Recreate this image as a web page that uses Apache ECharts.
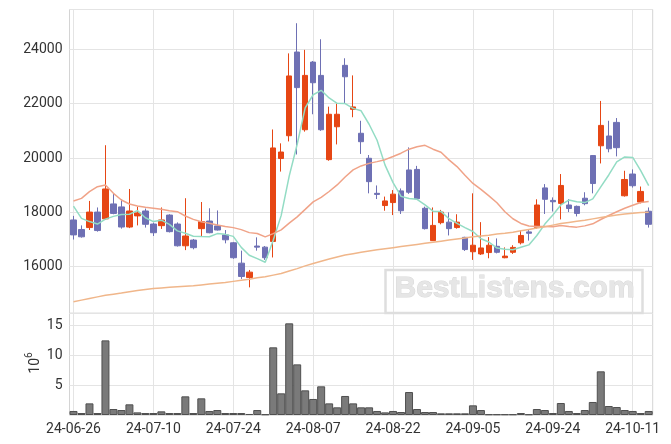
<!DOCTYPE html>
<html>
<head>
<meta charset="utf-8">
<script src="https://cdn.jsdelivr.net/npm/echarts@6/dist/echarts.min.js"></script>
<style>html,body{margin:0;padding:0;background:#fff;}#c{width:671px;height:444px;}</style>
</head>
<body>
<div id="c"></div>
<script>
const dates = ['24-06-26','24-06-27','24-06-28','24-07-01','24-07-02','24-07-03','24-07-04','24-07-05','24-07-08','24-07-09',
'24-07-10','24-07-11','24-07-12','24-07-15','24-07-16','24-07-17','24-07-18','24-07-19','24-07-22','24-07-23',
'24-07-24','24-07-25','24-07-26','24-07-29','24-07-30','24-07-31','24-08-01','24-08-02','24-08-05','24-08-06',
'24-08-07','24-08-08','24-08-09','24-08-12','24-08-13','24-08-14','24-08-16','24-08-19','24-08-20','24-08-21',
'24-08-22','24-08-23','24-08-26','24-08-27','24-08-28','24-08-29','24-08-30','24-09-02','24-09-03','24-09-04',
'24-09-05','24-09-06','24-09-09','24-09-10','24-09-11','24-09-12','24-09-13','24-09-19','24-09-20','24-09-23',
'24-09-24','24-09-25','24-09-26','24-09-27','24-09-30','24-10-02','24-10-04','24-10-07','24-10-08','24-10-10',
'24-10-11','24-10-14','24-10-15'];

const open  = [17720,17370,17440,18010,17760,18310,18200,17460,17870,18050,17570,17510,17900,17570,16770,16980,17400,17680,17500,17170,
16880,16130,15600,16760,16720,16930,19980,20820,23900,21040,23530,23040,19940,21150,23410,21790,20910,19990,18700,18250,
18360,18790,19560,19580,18150,16960,17620,17640,17440,17080,16550,16470,16520,16750,16330,16530,16880,17280,17440,18900,
18440,18330,18270,18220,18520,20090,20450,20810,21310,18610,19410,18380,18040];
const close = [17170,17100,18010,17330,18860,17960,17460,18050,17980,17560,17250,17720,17290,16770,17130,16700,17660,17250,17350,16990,
16330,15640,15800,16720,16330,20370,20220,23020,22590,23040,22770,21040,21610,21610,22990,21880,20600,19130,18660,18420,
18670,18060,18740,18500,17400,17520,18010,17400,17640,16630,16790,16690,16790,16530,16390,16710,17150,17230,18270,18480,
18390,18990,18140,17960,18320,19060,21200,20340,20380,19210,18980,18770,17560];
const low   = [17000,17070,17350,17290,17720,17930,17400,17420,17520,17440,17130,17390,17260,16740,16610,16640,17130,17230,17330,16860,
16290,15550,15240,16590,16250,16340,19500,20610,20130,20970,21610,21000,19900,20500,22010,21500,20150,18700,18490,18060,
17900,17940,18680,18480,17370,16950,17560,17150,17400,16580,16250,16430,16310,16490,16310,16470,16820,16960,17400,17940,
18030,17740,18010,17850,18260,18700,19800,20210,20060,18580,18910,18330,17440];
const high  = [17870,17520,18420,18180,20470,18700,18480,18860,18210,18140,17620,18180,17930,17630,18520,17020,18380,18150,18070,17350,
16910,16590,15880,17080,16760,21050,20540,23850,24960,23980,23570,24370,21890,22010,23670,23040,21370,20110,18990,18580,
18820,18880,20390,19710,18210,18180,18090,18000,17930,17100,18700,17640,17090,17040,16710,16790,17350,17370,18480,19040,
18550,19410,18490,18250,18740,20110,22100,21370,21470,19530,19580,18950,18180];

const ma5   = [18230,17780,17660,17570,17750,17852,17924,17932,18062,17802,17660,17712,17560,17318,17232,17122,17110,17102,17218,17190,
17116,16712,16422,16296,16164,16972,17888,19332,20506,21848,22328,22492,22210,22014,22004,21826,21738,21242,20652,19738,
19096,18588,18510,18478,18274,18044,18034,17766,17594,17440,17294,17030,16908,16686,16638,16622,16714,16802,17150,17568,
17904,18272,18454,18392,18360,18494,18936,19376,19860,20038,20022,19536,18980];
const ma20  = [18417,18515,18760,18945,19006,18699,18454,18307,18233,18184,18147,18110,18061,18025,17865,17742,17656,17595,17534,17480,
17438,17365,17254,17224,17097,17218,17356,17604,17835,18109,18385,18551,18767,19009,19302,19561,19708,19802,19867,19939,
20056,20177,20324,20413,20466,20324,20213,19932,19685,19364,19065,18848,18607,18353,18023,17764,17592,17497,17477,17480,
17466,17513,17483,17456,17502,17579,17738,17885,18022,18151,18261,18365,18403];
const ma120 = [14710,14770,14830,14890,14950,14990,15030,15080,15120,15160,15200,15220,15240,15260,15280,15300,15330,15360,15390,15420,
15460,15500,15540,15590,15630,15690,15750,15840,15930,16030,16120,16200,16280,16360,16430,16480,16530,16580,16620,16660,
16700,16740,16780,16820,16860,16900,16940,16980,17020,17060,17100,17130,17160,17200,17230,17270,17320,17370,17420,17470,
17530,17590,17630,17670,17710,17760,17810,17860,17900,17940,17970,17990,18000];
const volume = [0.67,0.33,1.94,0.33,12.44,1.0,0.83,1.78,0.44,0.33,0.33,0.61,0.33,0.33,3.11,0.33,2.78,0.67,0.83,0.33,
0.33,0.33,0.17,0.83,0.11,11.28,3.61,15.28,8.44,4.11,2.67,4.78,1.94,1.28,3.17,1.94,1.28,1.28,0.67,0.44,
0.67,0.5,3.83,1.0,0.5,0.5,0.28,0.28,0.28,0.28,1.61,0.83,0.11,0.11,0.11,0.11,0.33,0.11,1.0,0.83,
0.33,2.0,0.67,0.33,0.83,2.17,7.28,1.5,1.33,0.83,0.67,0.33,0.67];

const candles = dates.map((d, i) => [open[i], close[i], low[i], high[i]]);

const UP = '#e64614', DOWN = '#6e70b4';
const gridColor = '#e4e4e4';
const font = 'Roboto';
const plain = v => String(v);

const chart = echarts.init(document.getElementById('c'), null, {renderer: 'canvas'});
chart.setOption({
  animation: false,
  backgroundColor: '#fff',
  grid: [
    {left: 69.5, right: 18.3, top: 9.5, height: 303.8, show: true, borderColor: '#d4d4d4', borderWidth: 1, containLabel: false},
    {left: 69.5, right: 18.3, top: 313.3, height: 101.7, show: true, borderColor: '#d4d4d4', borderWidth: 1, containLabel: false}
  ],
  xAxis: [
    {type: 'category', gridIndex: 0, data: dates, boundaryGap: true,
     axisLine: {show: false}, axisTick: {show: false}, axisLabel: {show: false},
     splitLine: {show: true, interval: 9, alignWithLabel: true, lineStyle: {color: gridColor, width: 1}}},
    {type: 'category', gridIndex: 1, data: dates, boundaryGap: true,
     axisLine: {show: false}, axisTick: {show: false},
     axisLabel: {interval: 9, color: '#333', fontFamily: font, fontSize: 14, margin: 7},
     splitLine: {show: true, interval: 9, alignWithLabel: true, lineStyle: {color: gridColor, width: 1}}}
  ],
  yAxis: [
    {type: 'value', gridIndex: 0, min: 14285, max: 25465, splitNumber: 5, scale: true,
     axisLine: {show: false}, axisTick: {show: false},
     axisLabel: {color: '#333', fontFamily: font, fontSize: 14, margin: 7, showMinLabel: false, showMaxLabel: false, formatter: plain},
     splitLine: {lineStyle: {color: gridColor, width: 1}}},
    {type: 'value', gridIndex: 1, min: 0, max: 16.95, interval: 5,
     axisLine: {show: false}, axisTick: {show: false},
     axisLabel: {color: '#333', fontFamily: font, fontSize: 14, margin: 7, showMinLabel: false, showMaxLabel: false, formatter: plain},
     splitLine: {lineStyle: {color: gridColor, width: 1}}}
  ],
  series: [
    {type: 'candlestick', xAxisIndex: 0, yAxisIndex: 0, data: candles, barWidth: 6,
     itemStyle: {color: UP, color0: DOWN, borderColor: UP, borderColor0: DOWN, borderWidth: 1}},
    {type: 'line', xAxisIndex: 0, yAxisIndex: 0, data: ma5, symbol: 'none', smooth: false,
     lineStyle: {color: '#93dcc4', width: 1.5}, z: 3},
    {type: 'line', xAxisIndex: 0, yAxisIndex: 0, data: ma20, symbol: 'none', smooth: false,
     lineStyle: {color: '#f0a388', width: 1.5}, z: 3},
    {type: 'line', xAxisIndex: 0, yAxisIndex: 0, data: ma120, symbol: 'none', smooth: false,
     lineStyle: {color: '#f0b68a', width: 1.5}, z: 3},
    {type: 'bar', xAxisIndex: 1, yAxisIndex: 1, data: volume, barCategoryGap: '0%',
     itemStyle: {color: '#7a7a7a', borderColor: '#505050', borderWidth: 1}}
  ],
  graphic: [
    {type: 'text', x: 33, y: 363, rotation: Math.PI / 2, silent: true,
     style: {text: '{a|10}{s|6}', align: 'center', verticalAlign: 'middle',
             rich: {a: {fontSize: 14, fontFamily: font, fill: '#333', verticalAlign: 'bottom', lineHeight: 18},
                    s: {fontSize: 10, fontFamily: font, fill: '#333', verticalAlign: 'top', lineHeight: 18}}}},
    {type: 'rect', left: 383, top: 267.5, z: 100, silent: true,
     shape: {width: 257, height: 43},
     style: {fill: 'none', stroke: '#dedede', lineWidth: 2.5}},
    {type: 'text', left: 394, top: 273, z: 100, silent: true,
     style: {text: 'BestListens.com', fill: '#e6e6e6', stroke: '#d8d8d8', lineWidth: 1,
             font: 'bold 30px "Liberation Sans", Arial, sans-serif'}}
  ]
});
</script>
</body>
</html>
